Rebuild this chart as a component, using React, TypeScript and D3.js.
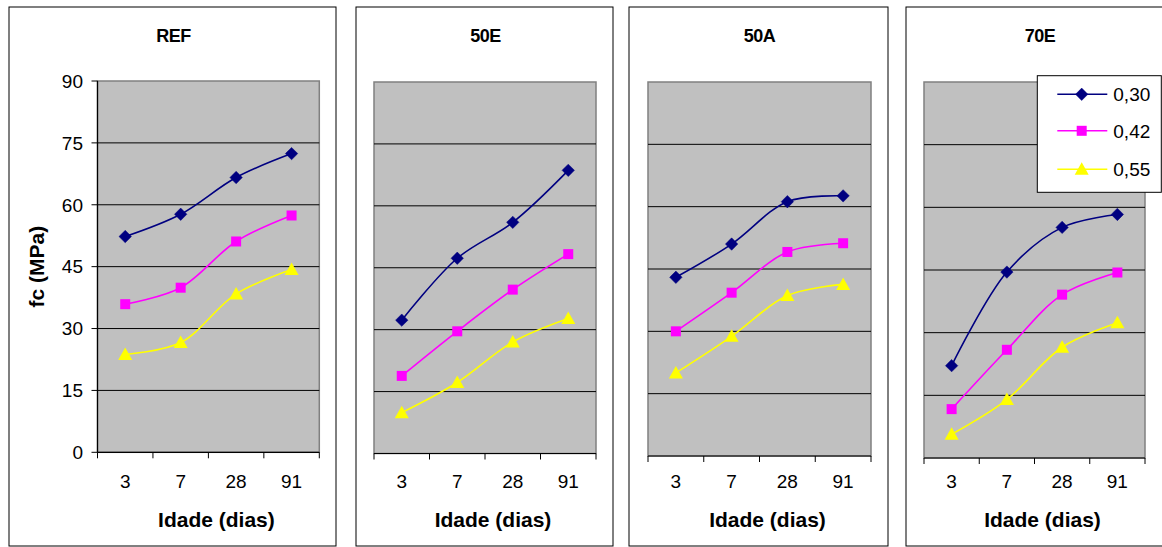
import React from "react";
import * as d3 from "d3";

const categories = ["3", "7", "28", "91"];
const seriesNames = ["0,30", "0,42", "0,55"];
const panelTitles = ["REF", "50E", "50A", "70E"];
const yTicks = [0, 15, 30, 45, 60, 75, 90];

const refValues = [
  [52.3, 57.7, 66.6, 72.4],
  [35.9, 39.9, 51.1, 57.4],
  [23.7, 26.6, 38.4, 44.3],
];
const e50Values = [
  [32.3, 47.3, 56.0, 68.6],
  [18.8, 29.6, 39.7, 48.3],
  [9.9, 17.2, 27.0, 32.7],
];
const a50Values = [
  [43.0, 51.0, 61.2, 62.6],
  [30.0, 39.3, 49.1, 51.2],
  [20.0, 28.8, 38.6, 41.3],
];
const e70Values = [
  [22.1, 44.5, 55.2, 58.3],
  [11.7, 25.9, 39.1, 44.4],
  [5.7, 14.0, 26.5, 32.4],
];
const panelValues = [refValues, e50Values, a50Values, e70Values];

// layout (not data)
const layout = [
  { bx0: 9, bx1: 336, px0: 97.5, px1: 319.3, py0: 81, py1: 452.3 },
  { bx0: 356, bx1: 613, px0: 374, px1: 596, py0: 82, py1: 453.5 },
  { bx0: 629, bx1: 888, px0: 648, px1: 871, py0: 82, py1: 456 },
  { bx0: 906, bx1: 1172, px0: 924, px1: 1145, py0: 82, py1: 458 },
];
const colors = ["#000080", "#FF00FF", "#FFFF00"];
const FONT = "Arial, 'Liberation Sans', Helvetica, sans-serif";

function marker(kind: number, cx: number, cy: number, color: string, key?: string) {
  if (kind === 0) {
    const h = 6.2;
    return (
      <path key={key} d={`M${cx},${cy - h}L${cx + h},${cy}L${cx},${cy + h}L${cx - h},${cy}Z`} fill={color} stroke={color} strokeWidth={0.5} />
    );
  }
  if (kind === 1) {
    const s = 5;
    return <rect key={key} x={cx - s} y={cy - s} width={2 * s} height={2 * s} fill={color} />;
  }
  const w = 7, top = 7, bot = 5.5;
  return <path key={key} d={`M${cx},${cy - top}L${cx + w},${cy + bot}L${cx - w},${cy + bot}Z`} fill={color} />;
}

function Panel({ idx }: { idx: number }) {
  const L = layout[idx];
  const values = panelValues[idx];
  const x = d3.scaleBand<string>().domain(categories).range([L.px0, L.px1]);
  const y = d3.scaleLinear().domain([0, 90]).range([L.py1, L.py0]);
  const bw = x.bandwidth();
  const line = d3
    .line<number>()
    .x((_, i) => (x(categories[i]) as number) + bw / 2)
    .y((d) => y(d))
    .curve(d3.curveCatmullRom.alpha(0.5));
  const pcx = (L.px0 + L.px1) / 2;
  const boundaries = categories.map((c) => x(c) as number).concat([L.px1]);
  return (
    <g>
      <rect x={L.bx0} y={7} width={L.bx1 - L.bx0} height={539} fill="#fff" stroke="#000" strokeWidth={1} />
      <text x={(L.bx0 + L.bx1) / 2 + 1} y={42} textAnchor="middle" fontFamily={FONT} fontWeight="bold" fontSize={18} letterSpacing={-0.5}>
        {panelTitles[idx]}
      </text>
      <rect x={L.px0} y={L.py0} width={L.px1 - L.px0} height={L.py1 - L.py0} fill="#C0C0C0" stroke="#808080" strokeWidth={1.5} />
      {yTicks.filter((t) => t > 0 && t < 90).map((t) => (
        <line key={t} x1={L.px0} x2={L.px1} y1={y(t)} y2={y(t)} stroke="#000" strokeWidth={1} />
      ))}
      <line x1={L.px0} x2={L.px1} y1={y(0)} y2={y(0)} stroke="#000" strokeWidth={1.2} />
      {boundaries.map((b, i) => (
        <line key={i} x1={b} x2={b} y1={y(0)} y2={y(0) + 6} stroke="#000" strokeWidth={1} />
      ))}
      {categories.map((c) => (
        <text key={c} x={(x(c) as number) + bw / 2} y={488} textAnchor="middle" fontFamily={FONT} fontSize={19}>
          {c}
        </text>
      ))}
      <text x={pcx + 8} y={527} textAnchor="middle" fontFamily={FONT} fontWeight="bold" fontSize={21}>
        Idade (dias)
      </text>
      {idx === 0 && (
        <g>
          <line x1={L.px0} x2={L.px0} y1={L.py0} y2={L.py1} stroke="#000" strokeWidth={1.2} />
          {yTicks.map((t) => (
            <g key={t}>
              <line x1={L.px0 - 6} x2={L.px0} y1={y(t)} y2={y(t)} stroke="#000" strokeWidth={1} />
              <text x={83} y={y(t) + 6.8} textAnchor="end" fontFamily={FONT} fontSize={19}>
                {t}
              </text>
            </g>
          ))}
          <text transform={`translate(43.5,${(L.py0 + L.py1) / 2}) rotate(-90)`} textAnchor="middle" fontFamily={FONT} fontWeight="bold" fontSize={21}>
            fc (MPa)
          </text>
        </g>
      )}
      {values.map((vals, s) => (
        <g key={s}>
          <path d={line(vals) as string} fill="none" stroke={colors[s]} strokeWidth={1.6} />
          {vals.map((v, i) => marker(s, (x(categories[i]) as number) + bw / 2, y(v), colors[s], `${s}-${i}`))}
        </g>
      ))}
    </g>
  );
}

function Legend() {
  const ys = [94.3, 130.8, 169.3];
  return (
    <g>
      <rect x={1037.3} y={75.7} width={124} height={116.6} fill="#fff" stroke="#000" strokeWidth={1} />
      {seriesNames.map((n, i) => (
        <g key={n}>
          <line x1={1057.3} x2={1107.3} y1={ys[i]} y2={ys[i]} stroke={colors[i]} strokeWidth={1.6} />
          {marker(i, 1081.7, ys[i], colors[i])}
          <text x={1113.3} y={ys[i] + 6.8} fontFamily={FONT} fontSize={19}>
            {n}
          </text>
        </g>
      ))}
    </g>
  );
}

export default function App() {
  return (
    <svg width={1162} height={547} style={{ position: "absolute", left: 0, top: 0, background: "#fff" }}>
      {panelTitles.map((_, i) => (
        <Panel key={i} idx={i} />
      ))}
      <Legend />
    </svg>
  );
}
